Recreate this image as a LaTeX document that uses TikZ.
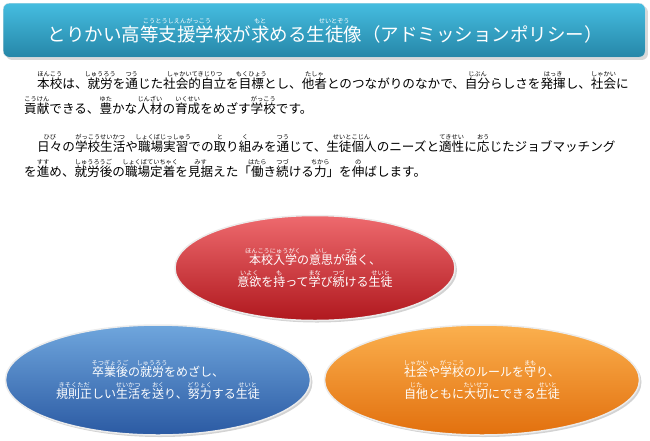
\documentclass[tikz,border=0pt]{standalone}
\usepackage{fontspec}
\setmainfont{Noto Sans CJK JP}
\usetikzlibrary{shadows}
\newcommand\rb[2]{\setbox0\hbox{#1}\leavevmode\rlap{\hbox to \wd0{\hss\raisebox{0.95em}{\fontsize{6.2}{6.5}\selectfont #2}\hss}}#1}
\definecolor{tA}{HTML}{45BDE0}\definecolor{tB}{HTML}{2687A8}
\definecolor{rA}{HTML}{EE6A6E}\definecolor{rB}{HTML}{B0181E}
\definecolor{bA}{HTML}{6FA6DD}\definecolor{bB}{HTML}{2B5AA3}
\definecolor{oA}{HTML}{FBB04E}\definecolor{oB}{HTML}{E2700E}
\tikzset{ell/.style={ellipse,draw=white!85!gray,line width=1.5pt,drop shadow={opacity=0.35,shadow xshift=2pt,shadow yshift=-2pt}},
 etext/.style={text=white,font=\fontsize{12}{22}\selectfont,align=center},
 body/.style={anchor=base west,font=\fontsize{12.6}{14}\selectfont,inner sep=0}}
\usetikzlibrary{shapes.geometric}
\begin{document}
\begin{tikzpicture}[x=1pt,y=-1pt]
\useasboundingbox (0,0) rectangle (650,440);
\node[draw=white!80!gray,rounded corners=6pt,top color=tA,bottom color=tB,minimum width=642pt,minimum height=54pt,anchor=north west,drop shadow={opacity=0.3}] (title) at (3,3) {};
\node[text=white,font=\fontsize{18.5}{20}\selectfont,anchor=base] (tt) at (325,41) {とりかい\rb{高等支援学校}{こうとうしえんがっこう}が\rb{求}{もと}める\rb{生徒像}{せいとぞう}（アドミッションポリシー）};
\node[body] (l1) at (37,88) {\rb{本校}{ほんこう}は、\rb{就労}{しゅうろう}を\rb{通}{つう}じた\rb{社会的自立}{しゃかいてきじりつ}を\rb{目標}{もくひょう}とし、\rb{他者}{たしゃ}とのつながりのなかで、\rb{自分}{じぶん}らしさを\rb{発揮}{はっき}し、\rb{社会}{しゃかい}に};
\node[body] (l2) at (24,113) {\rb{貢献}{こうけん}できる、\rb{豊}{ゆた}かな\rb{人材}{じんざい}の\rb{育成}{いくせい}をめざす\rb{学校}{がっこう}です。};
\node[body] (l3) at (37,151) {\rb{日々}{ひび}の\rb{学校生活}{がっこうせいかつ}や\rb{職場実習}{しょくばじっしゅう}での\rb{取}{と}り\rb{組}{く}みを\rb{通}{つう}じて、\rb{生徒個人}{せいとこじん}のニーズと\rb{適性}{てきせい}に\rb{応}{おう}じたジョブマッチング};
\node[body] (l4) at (24,176) {を\rb{進}{すす}め、\rb{就労後}{しゅうろうご}の\rb{職場定着}{しょくばていちゃく}を\rb{見据}{みす}えた「\rb{働}{はたら}き\rb{続}{つづ}ける\rb{力}{ちから}」を\rb{伸}{の}ばします。};
\node[ell,top color=rA,bottom color=rB,minimum width=280pt,minimum height=105pt] (red) at (315,268) {};
\node[etext] at (red) {\rb{本校入学}{ほんこうにゅうがく}の\rb{意思}{いし}が\rb{強}{つよ}く、\\\rb{意欲}{いよく}を\rb{持}{も}って\rb{学}{まな}び\rb{続}{つづ}ける\rb{生徒}{せいと}};
\node[ell,top color=bA,bottom color=bB,minimum width=305pt,minimum height=110pt] (blue) at (158,380) {};
\node[etext] at (blue) {\rb{卒業後}{そつぎょうご}の\rb{就労}{しゅうろう}をめざし、\\\rb{規則正}{きそくただ}しい\rb{生活}{せいかつ}を\rb{送}{おく}り、\rb{努力}{どりょく}する\rb{生徒}{せいと}};
\node[ell,top color=oA,bottom color=oB,minimum width=315pt,minimum height=110pt] (orange) at (482,380) {};
\node[etext] at (orange) {\rb{社会}{しゃかい}や\rb{学校}{がっこう}のルールを\rb{守}{まも}り、\\\rb{自他}{じた}ともに\rb{大切}{たいせつ}にできる\rb{生徒}{せいと}};
\end{tikzpicture}
\end{document}
